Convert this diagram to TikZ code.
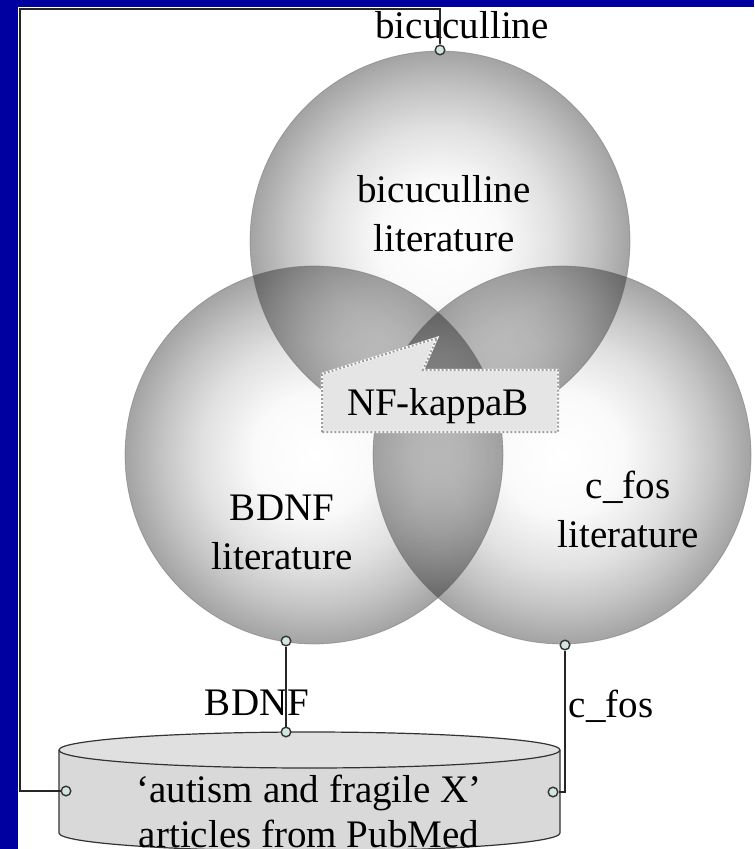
\documentclass[tikz,border=0pt]{standalone}
\usepackage{fontspec}
\setmainfont{Liberation Serif}
\definecolor{bgblue}{RGB}{0,0,160}
\definecolor{portfill}{RGB}{208,230,222}
\definecolor{shA}{gray}{1}
\definecolor{shB}{gray}{0.98}
\definecolor{shC}{gray}{0.88}
\definecolor{shD}{gray}{0.77}
\definecolor{shE}{gray}{0.64}
\definecolor{cylside}{gray}{0.85}
\definecolor{cyltop}{gray}{0.88}
\definecolor{callfill}{gray}{0.90}
\pgfdeclareradialshading{venn}{\pgfpoint{0bp}{0bp}}{color(0bp)=(shA); color(8bp)=(shB); color(15bp)=(shC); color(20bp)=(shD); color(25bp)=(shE); color(50bp)=(shE)}
\begin{document}
\begin{tikzpicture}[x=0.5pt,y=-0.5pt,
  lbl/.style={font=\fontsize{19.5}{24.5}\selectfont, inner sep=0pt, align=center},
  port/.style={circle, inner sep=0pt, minimum size=4.8pt, fill=portfill, draw=black!80, line width=0.7pt},
  wire/.style={draw=black!85, line width=0.8pt},
  rim/.style={draw=black!60, line width=0.35pt, opacity=0.45}]
\useasboundingbox (0,0) rectangle (754,849);
\clip (0,0) rectangle (754,849);
\fill[bgblue] (0,0) rectangle (754,849);
\fill[white] (18,7) rectangle (754,849);
% Venn circles
\coordinate (cTop) at (440,241);
\coordinate (cLeft) at (314,455);
\coordinate (cRight) at (562,455);
\begin{scope}[blend mode=multiply]
  \shade[shading=venn] (cTop) circle[radius=95pt];
  \shade[shading=venn] (cLeft) circle[radius=94.5pt];
  \shade[shading=venn] (cRight) circle[radius=94.5pt];
\end{scope}
\draw[rim] (cTop) circle[radius=95pt];
\draw[rim] (cLeft) circle[radius=94.5pt];
\draw[rim] (cRight) circle[radius=94.5pt];
% circle labels
\node[lbl] (tTop) at (444,214) {bicuculline\\literature};
\node[lbl] (tLeft) at (282,532) {BDNF\\literature};
\node[lbl] (tRight) at (628,509) {c\_fos\\literature};
% callout
\filldraw[fill=callfill, draw=white, line width=1.2pt]
  (322,432) -- (322,374) -- (437,338) -- (423,370) -- (558,370) -- (558,432) -- cycle;
\draw[draw=gray!75, densely dotted, line width=1pt]
  (322,432) -- (322,374) -- (437,338) -- (423,370) -- (558,370) -- (558,432) -- cycle;
\node[lbl, anchor=base] (tNF) at (438,415) {NF-kappaB};
% cylinder
\fill[cylside] (59,750) -- (59,833) arc[start angle=180, end angle=360, x radius=125.25pt, y radius=9pt] -- (560,750) -- cycle;
\draw[black!80, line width=0.6pt] (59,750) -- (59,833) arc[start angle=180, end angle=360, x radius=125.25pt, y radius=9pt] -- (560,750);
\filldraw[fill=cyltop, draw=black!80, line width=0.6pt] (309.5,750) ellipse[x radius=125.25pt, y radius=9pt];
\node[lbl, font=\fontsize{19.5}{22.5}\selectfont] (tCyl) at (309,811) {‘autism and fragile X’\\articles from PubMed};
% connector labels
\node[lbl, anchor=base] (lBic) at (462,39) {bicuculline};
\node[lbl, anchor=base] (lBDNF) at (257,715) {BDNF};
\node[lbl, anchor=base] (lCfos) at (611,717) {c\_fos};
% ports
\node[port] (pBic) at (440,50) {};
\node[port] (pBDNF) at (286,641) {};
\node[port] (pCfos) at (565,645) {};
\node[port] (pCylTop) at (286,732) {};
\node[port] (pCylL) at (66,791) {};
\node[port] (pCylR) at (553,792) {};
\coordinate (tl) at (20,9);
% connectors
\draw[wire] (pBic.north) |- (tl) |- (pCylL.west);
\draw[wire] (pBDNF.south) -- (pCylTop.north);
\draw[wire] (pCfos.south) |- (pCylR.east);
\end{tikzpicture}
\end{document}
